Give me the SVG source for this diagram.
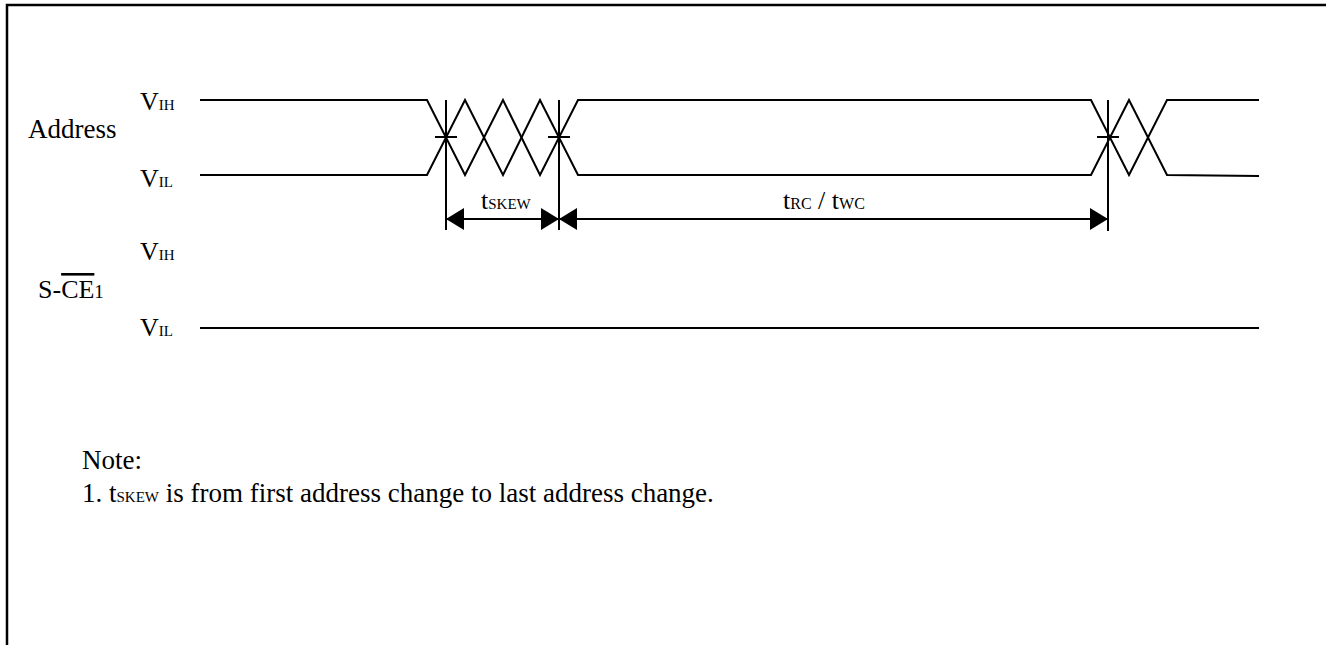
<svg xmlns="http://www.w3.org/2000/svg" width="1326" height="645" viewBox="0 0 1326 645">
<style>
  text { font-family: "Liberation Serif", "Tinos", "DejaVu Serif", serif; fill: #000; }
  .lbl { font-size: 26px; }
  .big { font-size: 27px; }
  .sub { font-size: 15px; }
  .wave { fill: none; stroke: #000; stroke-width: 2; stroke-linejoin: miter; }
  .thin { fill: none; stroke: #000; stroke-width: 2; }
  .dim { fill: none; stroke: #000; stroke-width: 2; marker-start: url(#arr); marker-end: url(#arr); }
</style>
<defs>
  <marker id="arr" viewBox="0 0 18 22" refX="18" refY="11" markerWidth="18" markerHeight="22" markerUnits="userSpaceOnUse" orient="auto-start-reverse">
    <path d="M0,0 L18,11 L0,22 Z" fill="#000"/>
  </marker>
</defs>
<rect width="1326" height="645" fill="#fff"/>
<g id="frame">
  <path d="M7,645 V5 H1326" fill="none" stroke="#000" stroke-width="2.5"/>
</g>
<g id="labels">
  <text class="big" x="28" y="138">Address</text>
  <text class="lbl" x="140" y="110">V<tspan class="sub">IH</tspan></text>
  <text class="lbl" x="140" y="187">V<tspan class="sub">IL</tspan></text>
  <text class="lbl" x="140" y="260">V<tspan class="sub">IH</tspan></text>
  <text class="lbl" x="140" y="336">V<tspan class="sub">IL</tspan></text>
  <text class="lbl" x="38" y="298">S-<tspan text-decoration="overline">CE</tspan><tspan font-size="19px">1</tspan></text>
</g>
<g id="address-signal">
  <path class="wave" d="M200,100 H427 L465,175 L503,100 L540,175 L578,100 H1091 L1129,175 L1167,100 H1259"/>
  <path class="wave" d="M200,175 H427 L465,100 L503,175 L540,100 L578,175 H1091 L1129,100 L1167,175 L1259,176"/>
</g>
<g id="ce-signal">
  <path class="wave" d="M200,328 H1259"/>
</g>
<g id="connectors">
  <path class="thin" d="M446,100 V230 M559,100 V230 M1108,100 V231"/>
  <path class="thin" d="M435,137 H457 M548,137 H570 M1097,137 H1119"/>
  <path class="dim" d="M446,219 H559"/>
  <path class="dim" d="M559,219 H1108"/>
</g>
<g id="timing-labels">
  <text class="lbl" x="481" y="209">t<tspan class="sub">SKEW</tspan></text>
  <text class="lbl" x="783" y="209">t<tspan font-size="16px">RC</tspan> / t<tspan font-size="16px">WC</tspan></text>
</g>
<g id="note">
  <text class="big" x="82" y="469">Note:</text>
  <text class="big" x="82" y="502">1.  t<tspan class="sub">SKEW</tspan> is from first address change to last address change.</text>
</g>
</svg>
